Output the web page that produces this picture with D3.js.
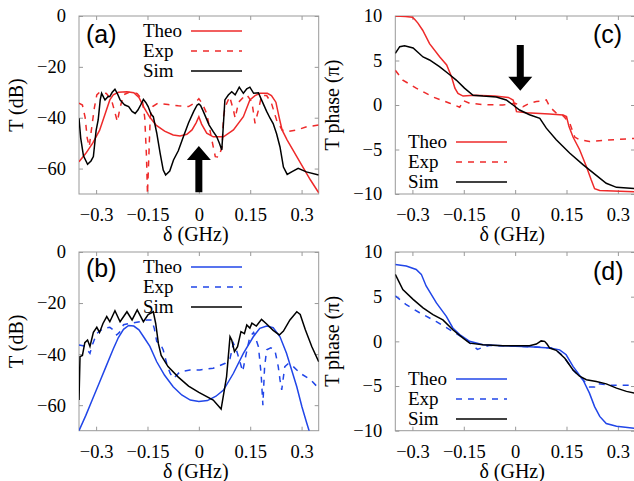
<!DOCTYPE html>
<html>
<head>
<meta charset="utf-8">
<script src="https://cdn.jsdelivr.net/npm/d3@7"></script>
<style>
body { margin: 0; background: #fff; }
svg text { font-family: "Liberation Serif", "Times New Roman", serif; fill: #000; }
.letter { font-family: "Liberation Sans", Arial, sans-serif !important; }
</style>
</head>
<body>
<script>
// detuning delta (GHz) vs transmission
var theoA = [[-0.35,-57.3],[-0.33,-54],[-0.31,-50],[-0.29,-45],[-0.275,-39],[-0.26,-33],[-0.25,-31],[-0.235,-30],[-0.21,-29.8],[-0.19,-30.2],[-0.175,-32],[-0.16,-36],[-0.145,-39.5],[-0.125,-42.9],[-0.1,-45.3],[-0.075,-46.8],[-0.055,-47.2],[-0.035,-46.5],[-0.02,-44.8],[-0.008,-42],[0,-39.6],[0.008,-42.5],[0.023,-46.1],[0.042,-47.5],[0.072,-47.5],[0.101,-44.8],[0.13,-39.6],[0.149,-33],[0.164,-31.3],[0.179,-30.4],[0.2,-30.4],[0.212,-31.3],[0.225,-33.9],[0.234,-39.6],[0.243,-44.8],[0.258,-48.8],[0.278,-53.4],[0.297,-57.9],[0.326,-64.5],[0.35,-69.5]];
var expA = [[-0.35,-34.3],[-0.34,-35],[-0.332,-40],[-0.326,-48],[-0.32,-51.4],[-0.314,-45],[-0.305,-36],[-0.298,-31],[-0.29,-30],[-0.27,-30.5],[-0.255,-33],[-0.245,-38],[-0.238,-41.5],[-0.23,-36],[-0.22,-31],[-0.2,-29.8],[-0.18,-30.5],[-0.165,-33],[-0.158,-40],[-0.153,-55],[-0.15,-70],[-0.146,-55],[-0.142,-40],[-0.135,-35.6],[-0.12,-34.3],[-0.09,-34.8],[-0.06,-35.3],[-0.03,-35.6],[-0.01,-34],[0,-32.5],[0.01,-34.5],[0.023,-38.3],[0.038,-48.8],[0.048,-55.3],[0.058,-55.5],[0.068,-51.4],[0.072,-39.6],[0.077,-35.7],[0.09,-31.7],[0.101,-37],[0.106,-40.2],[0.116,-33.9],[0.13,-32],[0.14,-31],[0.155,-33.8],[0.164,-42.2],[0.174,-37],[0.183,-31.3],[0.198,-31.3],[0.212,-34.3],[0.227,-40.9],[0.243,-44.8],[0.258,-45.5],[0.287,-44.8],[0.316,-43.5],[0.35,-42.9]];
var simA = [[-0.35,-40.2],[-0.345,-48],[-0.337,-55],[-0.325,-58.3],[-0.315,-57],[-0.308,-55.3],[-0.3,-45],[-0.294,-40.9],[-0.288,-33],[-0.284,-30.4],[-0.278,-32],[-0.274,-33],[-0.265,-31.7],[-0.26,-31.7],[-0.253,-30],[-0.245,-28.8],[-0.238,-30.5],[-0.23,-33],[-0.22,-34.5],[-0.216,-35],[-0.205,-35.6],[-0.195,-37.5],[-0.186,-38.3],[-0.178,-37],[-0.17,-35],[-0.162,-32.8],[-0.155,-34],[-0.148,-35.6],[-0.14,-38.5],[-0.133,-39.6],[-0.123,-46],[-0.113,-54],[-0.104,-60.6],[-0.097,-62.5],[-0.085,-61],[-0.074,-56.6],[-0.06,-53],[-0.045,-47.4],[-0.03,-42],[-0.015,-37.5],[-0.005,-35],[0,-34.6],[0.005,-35.2],[0.013,-37.5],[0.03,-42.9],[0.042,-45.5],[0.052,-47.4],[0.06,-50],[0.067,-52.7],[0.072,-42],[0.076,-33],[0.086,-31.1],[0.096,-29.8],[0.106,-31],[0.118,-28],[0.13,-30.4],[0.14,-28.6],[0.149,-28],[0.16,-30.4],[0.174,-30.2],[0.183,-33],[0.198,-37.5],[0.208,-40.2],[0.217,-42.3],[0.227,-46.3],[0.237,-51.5],[0.247,-59.4],[0.258,-62.3],[0.271,-61.3],[0.29,-59.9],[0.314,-61.3],[0.35,-62.5]];

// phase (units of pi)
var theoC = [[-0.35,10],[-0.32,9.95],[-0.3,9.85],[-0.293,9.6],[-0.284,9.2],[-0.27,8.4],[-0.25,6.9],[-0.22,5.4],[-0.2,4.5],[-0.186,3.2],[-0.176,1.9],[-0.167,1.3],[-0.152,1.0],[-0.12,1.1],[-0.06,1.0],[-0.02,0.85],[-0.006,0.56],[0,-0.1],[0.004,-0.75],[0.033,-0.86],[0.1,-1.0],[0.14,-1.12],[0.15,-1.3],[0.157,-2.4],[0.169,-3.6],[0.188,-5.0],[0.208,-6.9],[0.222,-8.4],[0.232,-9.4],[0.247,-9.6],[0.35,-9.75]];
var expC = [[-0.35,3.9],[-0.328,2.8],[-0.289,1.9],[-0.24,0.9],[-0.191,0.2],[-0.162,-0.25],[-0.155,0.2],[-0.152,0.5],[-0.133,0.2],[-0.094,0.05],[-0.036,0.0],[0.0,0.2],[0.023,-0.2],[0.042,0.2],[0.062,0.4],[0.081,0.45],[0.091,0.56],[0.101,-0.2],[0.12,-0.9],[0.14,-1.2],[0.159,-2.0],[0.174,-3.6],[0.188,-3.9],[0.217,-4.1],[0.266,-3.95],[0.35,-3.75]];
var simC = [[-0.35,5.8],[-0.337,6.55],[-0.323,6.65],[-0.298,6.4],[-0.269,5.4],[-0.25,5.06],[-0.221,4.3],[-0.191,3.4],[-0.172,2.8],[-0.148,1.9],[-0.123,1.1],[-0.094,1.0],[-0.055,0.9],[-0.026,0.56],[-0.006,0.0],[0.013,-0.56],[0.042,-1.1],[0.072,-1.5],[0.091,-2.6],[0.12,-3.9],[0.159,-5.4],[0.198,-6.7],[0.237,-7.9],[0.266,-8.8],[0.296,-9.25],[0.35,-9.4]];

var theoB = [[-0.35,-70],[-0.33,-64],[-0.31,-57.5],[-0.29,-51],[-0.27,-44.5],[-0.25,-38],[-0.235,-33.5],[-0.22,-30.3],[-0.205,-28.8],[-0.19,-29],[-0.175,-30.5],[-0.16,-33.5],[-0.143,-37],[-0.123,-43],[-0.1,-48.3],[-0.075,-52.8],[-0.05,-56],[-0.025,-58],[0,-58.6],[0.025,-58.2],[0.05,-56.5],[0.072,-54.1],[0.101,-47.5],[0.13,-39.7],[0.159,-33.2],[0.178,-29.9],[0.198,-29],[0.217,-29.6],[0.237,-33.2],[0.256,-39.7],[0.271,-46.2],[0.286,-52.8],[0.301,-60.6],[0.315,-67],[0.322,-70],[0.35,-80]];
var expB = [[-0.35,-36.4],[-0.335,-36.8],[-0.325,-38.5],[-0.318,-39.7],[-0.31,-36],[-0.298,-31.9],[-0.279,-29.9],[-0.26,-29.5],[-0.25,-30.5],[-0.24,-32.5],[-0.232,-31.5],[-0.22,-28.5],[-0.2,-27.9],[-0.172,-27.3],[-0.152,-26.6],[-0.138,-26.6],[-0.13,-30],[-0.123,-35.1],[-0.113,-35.8],[-0.104,-38.4],[-0.094,-43.6],[-0.084,-47.5],[-0.074,-49.5],[-0.055,-46.9],[-0.026,-46.2],[0.003,-46.2],[0.042,-45.5],[0.077,-43.6],[0.091,-41.8],[0.101,-35.8],[0.11,-38.5],[0.12,-43],[0.128,-46.8],[0.138,-40],[0.149,-33.2],[0.16,-31.5],[0.174,-37.1],[0.182,-48],[0.187,-60],[0.192,-45],[0.198,-38.3],[0.21,-37.5],[0.222,-38.4],[0.232,-45],[0.237,-50.1],[0.242,-54],[0.251,-44.9],[0.262,-43.6],[0.276,-44.9],[0.296,-47.5],[0.326,-50],[0.35,-53.4]];
var simB = [[-0.35,-58],[-0.347,-41],[-0.34,-40.5],[-0.333,-35.5],[-0.325,-34.5],[-0.318,-37],[-0.308,-31.5],[-0.298,-29.5],[-0.29,-31.5],[-0.28,-28],[-0.269,-25.3],[-0.26,-27.3],[-0.245,-23],[-0.23,-27.3],[-0.21,-23.4],[-0.195,-26.6],[-0.18,-22.7],[-0.162,-27.3],[-0.148,-24.5],[-0.133,-23.4],[-0.126,-28],[-0.118,-36],[-0.11,-40.5],[-0.09,-44.9],[-0.06,-49],[-0.03,-52.5],[0,-55],[0.042,-58],[0.065,-61.5],[0.081,-48.8],[0.091,-33.2],[0.096,-34.5],[0.104,-39],[0.113,-37.1],[0.123,-31.2],[0.133,-32],[0.14,-28.6],[0.149,-29.8],[0.155,-27.9],[0.168,-29],[0.183,-26.4],[0.198,-28.2],[0.217,-30.7],[0.235,-32.5],[0.247,-31],[0.266,-26.6],[0.286,-23.4],[0.296,-24.5],[0.311,-30.5],[0.33,-37.1],[0.35,-43]];

var theoD = [[-0.35,8.6],[-0.318,8.43],[-0.289,8.05],[-0.274,7.5],[-0.26,6.2],[-0.23,4.3],[-0.201,2.8],[-0.182,1.5],[-0.162,0.75],[-0.133,0.0],[-0.094,-0.37],[-0.036,-0.5],[0.042,-0.6],[0.101,-0.75],[0.13,-0.95],[0.149,-1.5],[0.169,-2.8],[0.198,-4.3],[0.217,-5.8],[0.232,-7.3],[0.247,-8.4],[0.266,-9.2],[0.296,-9.5],[0.35,-9.75]];
var expD = [[-0.35,5.1],[-0.318,4.1],[-0.279,3.2],[-0.23,2.2],[-0.182,1.1],[-0.143,0.2],[-0.123,-0.5],[-0.11,-0.9],[-0.09,-0.6],[-0.074,-0.45],[0.003,-0.55],[0.062,-0.64],[0.111,-0.75],[0.14,-1.6],[0.169,-3.2],[0.198,-4.3],[0.217,-5.1],[0.232,-5.1],[0.237,-4.7],[0.276,-4.9],[0.35,-4.9]];
var simD = [[-0.35,7.5],[-0.328,5.8],[-0.298,4.7],[-0.269,3.75],[-0.24,3.0],[-0.211,2.4],[-0.182,1.3],[-0.152,0.37],[-0.133,-0.2],[-0.094,-0.37],[-0.036,-0.5],[0.042,-0.5],[0.062,-0.3],[0.076,0.05],[0.086,0.0],[0.093,-0.3],[0.101,-0.75],[0.12,-1.0],[0.145,-1.9],[0.169,-3.2],[0.188,-3.9],[0.208,-4.3],[0.237,-4.5],[0.266,-4.76],[0.296,-5.24],[0.325,-5.6],[0.35,-5.8]];

var xTicks = [-0.3, -0.15, 0, 0.15, 0.3];
var dbTicks = [0, -20, -40, -60];
var phaseTicks = [10, 5, 0, -5, -10];
var seriesNames = ['Theo', 'Exp', 'Sim'];
// arrows: [x, tail y, tip y]
var arrowA = [0, -69.3, -51.1];
var arrowC = [0.015, 6.74, 1.6];

var red = '#ee2a2a', blue = '#2146e8', gray = '#999';
var W = 634, H = 481;

var svg = d3.select('body').append('svg')
  .attr('width', W).attr('height', H);

var panels = [
  {id:'a', l:79, r:318.7, t:16, b:194, yDom:[-70,0], yTicks:dbTicks, ylab:'T (dB)', col:red,
   data:[theoA, expA, simA], letter:'(a)', lx:86, ly:43, legX:143, legY:37, arrow:arrowA},
  {id:'c', l:395.3, r:635, t:16, b:194, yDom:[-10,10], yTicks:phaseTicks, ylab:'T phase (\u03c0)', col:red,
   data:[theoC, expC, simC], letter:'(c)', lx:593, ly:43, legX:408, legY:148, arrow:arrowC},
  {id:'b', l:79, r:318.7, t:252, b:430.7, yDom:[-70,0], yTicks:dbTicks, ylab:'T (dB)', col:blue,
   data:[theoB, expB, simB], letter:'(b)', lx:86, ly:277, legX:143, legY:273},
  {id:'d', l:395.3, r:635, t:252, b:430.7, yDom:[-10,10], yTicks:phaseTicks, ylab:'T phase (\u03c0)', col:blue,
   data:[theoD, expD, simD], letter:'(d)', lx:593, ly:280, legX:408, legY:385}
];

panels.forEach(function(p) {
  var x = d3.scaleLinear().domain([-0.35, 0.35]).range([p.l, p.r]);
  var y = d3.scaleLinear().domain(p.yDom).range([p.b, p.t]);
  var g = svg.append('g');

  g.append('clipPath').attr('id', 'clip-' + p.id)
    .append('rect').attr('x', p.l).attr('y', p.t)
    .attr('width', p.r - p.l).attr('height', p.b - p.t);

  // axes (ticks point inward, mirrored)
  var bottom = g.append('g').attr('transform', 'translate(0,' + p.b + ')')
    .call(d3.axisBottom(x).tickValues(xTicks).tickSizeInner(-4).tickSizeOuter(0).tickPadding(14).tickFormat(d3.format('')));
  var left = g.append('g').attr('transform', 'translate(' + p.l + ',0)')
    .call(d3.axisLeft(y).tickValues(p.yTicks).tickSizeInner(-4).tickSizeOuter(0).tickPadding(13));
  var top = g.append('g').attr('transform', 'translate(0,' + p.t + ')')
    .call(d3.axisTop(x).tickValues(xTicks).tickSizeInner(-4).tickSizeOuter(0).tickFormat(''));
  var right = g.append('g').attr('transform', 'translate(' + p.r + ',0)')
    .call(d3.axisRight(y).tickValues(p.yTicks).tickSizeInner(-4).tickSizeOuter(0).tickFormat(''));
  [bottom, left, top, right].forEach(function(a) {
    a.select('.domain').remove();
    a.selectAll('line').attr('stroke', gray);
    a.selectAll('text').style('font-size', '18.5px').attr('fill', '#000');
  });

  g.append('rect').attr('x', p.l).attr('y', p.t)
    .attr('width', p.r - p.l).attr('height', p.b - p.t)
    .attr('fill', 'none').attr('stroke', gray).attr('stroke-width', 1);

  var line = d3.line().x(function(d) { return x(d[0]); }).y(function(d) { return y(d[1]); });
  var cols = [p.col, p.col, '#000'];
  var dash = [null, '6,6', null];
  var lines = g.append('g').attr('clip-path', 'url(#clip-' + p.id + ')');
  p.data.forEach(function(s, i) {
    lines.append('path').datum(s)
      .attr('d', line)
      .attr('fill', 'none')
      .attr('stroke', cols[i])
      .attr('stroke-width', 1.5)
      .attr('stroke-dasharray', dash[i]);
  });

  if (p.arrow) {
    var ax = x(p.arrow[0]), y0 = y(p.arrow[1]), y1 = y(p.arrow[2]);
    var dir = y1 < y0 ? 1 : -1;
    var hb = y1 + dir * 14;
    var pts = [[ax - 3.5, y0], [ax - 3.5, hb], [ax - 12, hb], [ax, y1], [ax + 12, hb], [ax + 3.5, hb], [ax + 3.5, y0]];
    lines.append('polygon').attr('points', pts.map(function(q) { return q.join(','); }).join(' '))
      .attr('fill', '#000');
  }

  // legend
  seriesNames.forEach(function(n, i) {
    var yy = p.legY + i * 20;
    g.append('text').attr('x', p.legX).attr('y', yy).style('font-size', '19px').text(n);
    g.append('line').attr('x1', p.legX + 48).attr('x2', p.legX + 99)
      .attr('y1', yy - 6).attr('y2', yy - 6)
      .attr('stroke', cols[i]).attr('stroke-width', 1.5)
      .attr('stroke-dasharray', dash[i]);
  });

  g.append('text').attr('class', 'letter').attr('x', p.lx).attr('y', p.ly)
    .style('font-size', '25px').text(p.letter);

  g.append('text').attr('x', x(0) - 3).attr('y', p.b + 47)
    .attr('text-anchor', 'middle').style('font-size', '20px').text('\u03b4 (GHz)');

  var yc = (p.t + p.b) / 2;
  g.append('text').attr('transform', 'translate(' + (p.l - 56) + ',' + yc + ') rotate(-90)')
    .attr('text-anchor', 'middle').style('font-size', '20px').text(p.ylab);
});
</script>
</body>
</html>
